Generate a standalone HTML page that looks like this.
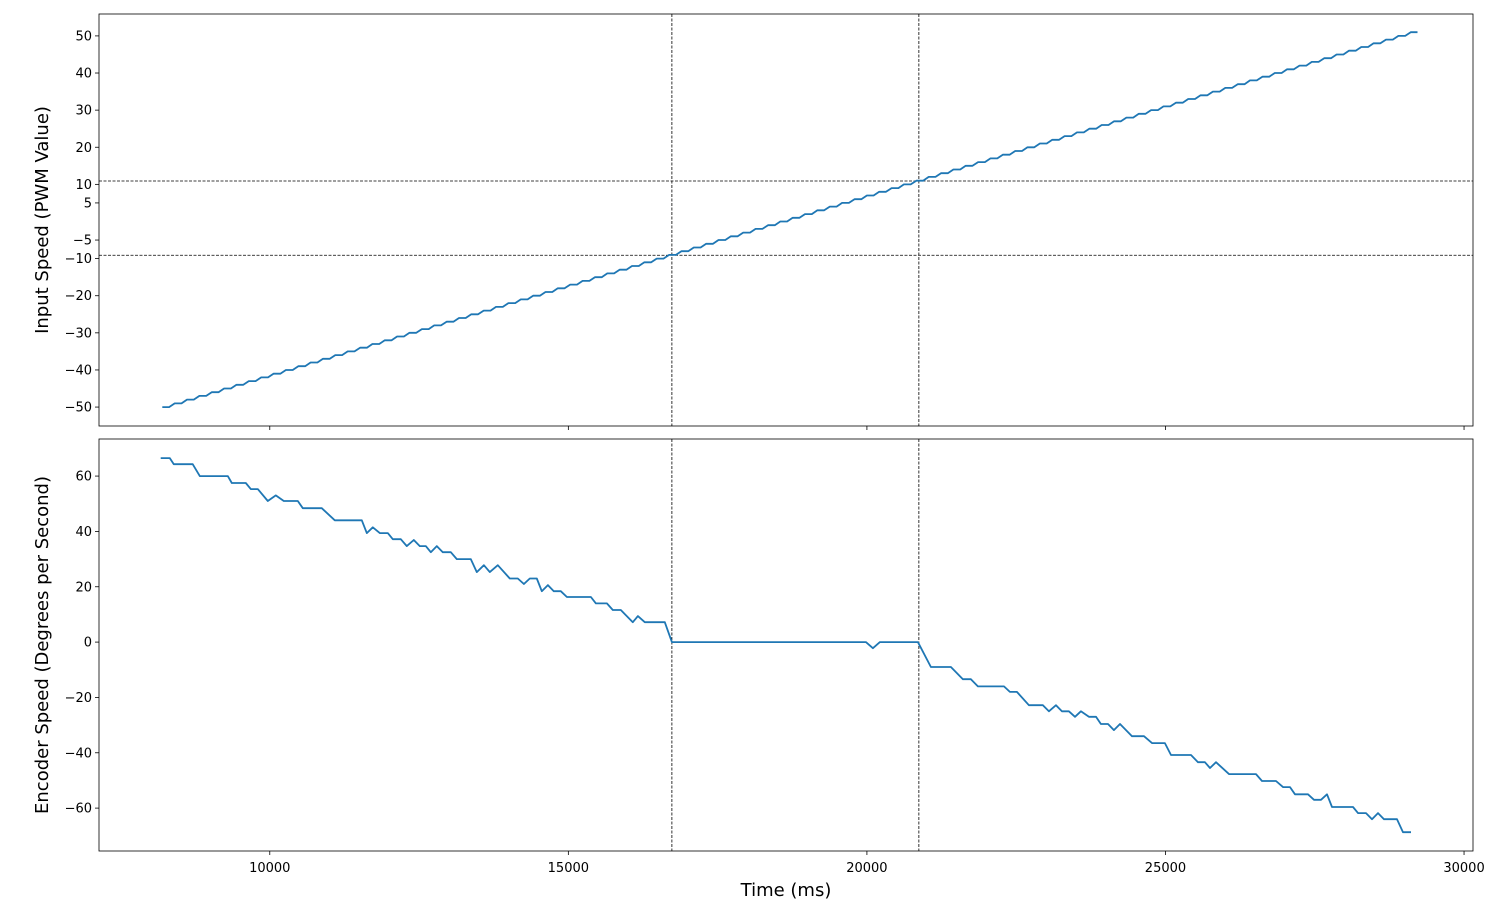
<!DOCTYPE html>
<html><head><meta charset="utf-8"><style>
html,body{margin:0;padding:0;background:#fff;}
svg{display:block;font-family:"DejaVu Sans","Liberation Sans",sans-serif;}
</style></head><body>
<svg id="fig" width="1512" height="909" viewBox="0 0 1512 909"></svg>
<script>
const pwmTimes=[8200,8407,8614,8821,9028,9235,9442,9649,9856,10063,10270,10477,10684,10891,11098,11305,11512,11719,11926,12133,12340,12547,12754,12961,13168,13375,13582,13789,13996,14203,14410,14617,14824,15031,15238,15445,15652,15859,16066,16273,16480,16687,16894,17101,17308,17515,17722,17929,18136,18343,18550,18757,18964,19171,19378,19585,19792,19999,20206,20413,20620,20827,21034,21241,21448,21655,21862,22069,22276,22483,22690,22897,23104,23311,23518,23725,23932,24139,24346,24553,24760,24967,25174,25381,25588,25795,26002,26209,26416,26623,26830,27037,27244,27451,27658,27865,28072,28279,28486,28693,28900,29107];
const pwmValues=[-50,-49,-48,-47,-46,-45,-44,-43,-42,-41,-40,-39,-38,-37,-36,-35,-34,-33,-32,-31,-30,-29,-28,-27,-26,-25,-24,-23,-22,-21,-20,-19,-18,-17,-16,-15,-14,-13,-12,-11,-10,-9,-8,-7,-6,-5,-4,-3,-2,-1,0,1,2,3,4,5,6,7,8,9,10,11,12,13,14,15,16,17,18,19,20,21,22,23,24,25,26,27,28,29,30,31,32,33,34,35,36,37,38,39,40,41,42,43,44,45,46,47,48,49,50,51];
const encTimes=[8174,8325,8392,8710,8828,9297,9364,9598,9682,9799,9967,10100,10235,10469,10553,10871,11089,11541,11625,11725,11843,11977,12060,12194,12295,12412,12513,12613,12697,12797,12898,13032,13132,13367,13467,13585,13685,13819,14020,14154,14255,14355,14472,14556,14657,14757,14874,14975,15377,15461,15645,15745,15879,16080,16164,16281,16616,16734,19983,20100,20218,20854,21072,21407,21608,21742,21859,22295,22395,22512,22713,22948,23048,23166,23266,23383,23484,23584,23718,23836,23919,24037,24137,24238,24439,24640,24774,24991,25092,25427,25544,25661,25745,25846,26063,26516,26616,26851,26968,27085,27169,27387,27487,27604,27705,27789,28140,28224,28358,28459,28559,28660,28877,28978,29112];
const encValues=[66.5,66.5,64.3,64.3,60,60,57.5,57.5,55.3,55.3,51,53,51,51,48.4,48.4,44,44,39.4,41.5,39.4,39.4,37.2,37.2,34.7,36.9,34.7,34.7,32.5,34.7,32.5,32.5,30,30,25.3,27.8,25.3,27.8,23,23,21,23,23,18.4,20.6,18.4,18.4,16.3,16.3,14,14,11.6,11.6,7.2,9.4,7.2,7.2,0,0,-2.2,0,0,-9,-9,-13.4,-13.4,-16,-16,-18,-18,-22.8,-22.8,-25,-22.8,-25,-25,-27,-25,-27,-27,-29.6,-29.6,-31.8,-29.6,-34,-34,-36.5,-36.5,-40.8,-40.8,-43.4,-43.4,-45.5,-43.4,-47.7,-47.7,-50.2,-50.2,-52.4,-52.4,-55,-55,-57,-57,-55,-59.6,-59.6,-61.8,-61.8,-64,-61.8,-64,-64,-68.7,-68.7];
const xTicks=[10000,15000,20000,25000,30000];
const topTicks=[-50,-40,-30,-20,-10,-5,5,10,20,30,40,50];
const botTicks=[-60,-40,-20,0,20,40,60];
const vLines=[16734,20870];
const hLines=[10.9,-9.1];

const NS="http://www.w3.org/2000/svg";
const svg=document.getElementById('fig');
function el(t,a,p){const e=document.createElementNS(NS,t);for(const k in a)e.setAttribute(k,a[k]);(p||svg).appendChild(e);return e;}
const L=99,R=1473;
const X=t=>L+(t-7140)/(30150-7140)*(R-L);
const axTop={t:14,b:426,min:-55.1,max:55.9};
const axBot={t:439,b:851,min:-75.5,max:73.4};
const Y=(ax,v)=>ax.b-(v-ax.min)/(ax.max-ax.min)*(ax.b-ax.t);
const BLUE="#1f77b4";

function axes(ax,name,ticks,label,showX){
  const g=el('g',{});
  
  
  vLines.forEach(t=>{const l=el('line',{x1:X(t),x2:X(t),y1:ax.t,y2:ax.b,stroke:'#000','stroke-width':0.8,'stroke-dasharray':'3,1.5'},g);
    
    });
  ticks.forEach(v=>{const y=Y(ax,v);
    el('line',{x1:L-4,x2:L,y1:y,y2:y,stroke:'#000','stroke-width':0.8},g);
    const tx=el('text',{x:L-7,y:y+4.5,'text-anchor':'end','font-size':13},g);tx.textContent=String(v).replace('-','\u2212');
    
    });
  xTicks.forEach(t=>{const x=X(t);el('line',{x1:x,x2:x,y1:ax.b,y2:ax.b+4,stroke:'#000','stroke-width':0.8},g);
    if(showX){const tx=el('text',{x:x,y:ax.b+21,'text-anchor':'middle','font-size':13},g);tx.textContent=t;
      
      }});
  const cy=(ax.t+ax.b)/2;
  const yl=el('text',{x:0,y:0,'text-anchor':'middle','font-size':18,transform:`translate(48,${cy}) rotate(-90)`},g);
  yl.textContent=label;
  
  
  return g;
}
const g1=axes(axTop,'input-speed-panel',topTicks,'Input Speed (PWM Value)',false);
hLines.forEach(v=>{const l=el('line',{x1:L,x2:R,y1:Y(axTop,v),y2:Y(axTop,v),stroke:'#000','stroke-width':0.8,'stroke-dasharray':'3,1.5'},g1);
  
  });
let d='';const dt=pwmTimes[1]-pwmTimes[0];
pwmTimes.forEach((t,i)=>{d+=(i?'L':'M')+X(t).toFixed(1)+','+Y(axTop,pwmValues[i]).toFixed(1)+'L'+X(t+dt*0.55).toFixed(1)+','+Y(axTop,pwmValues[i]).toFixed(1);});
const p1=el('path',{d:d,fill:'none',stroke:BLUE,'stroke-width':1.8,'stroke-linejoin':'round'},g1);


el('rect',{x:L,y:axTop.t,width:R-L,height:axTop.b-axTop.t,fill:'none',stroke:'#000','stroke-width':0.8},g1);

const g2=axes(axBot,'encoder-speed-panel',botTicks,'Encoder Speed (Degrees per Second)',true);
d='';encTimes.forEach((t,i)=>{d+=(i?'L':'M')+X(t).toFixed(1)+','+Y(axBot,encValues[i]).toFixed(1);});
const p2=el('path',{d:d,fill:'none',stroke:BLUE,'stroke-width':1.8,'stroke-linejoin':'round'},g2);


el('rect',{x:L,y:axBot.t,width:R-L,height:axBot.b-axBot.t,fill:'none',stroke:'#000','stroke-width':0.8},g2);
const xl=el('text',{x:786,y:896,'text-anchor':'middle','font-size':18});
xl.textContent='Time (ms)';


</script>
</body></html>
